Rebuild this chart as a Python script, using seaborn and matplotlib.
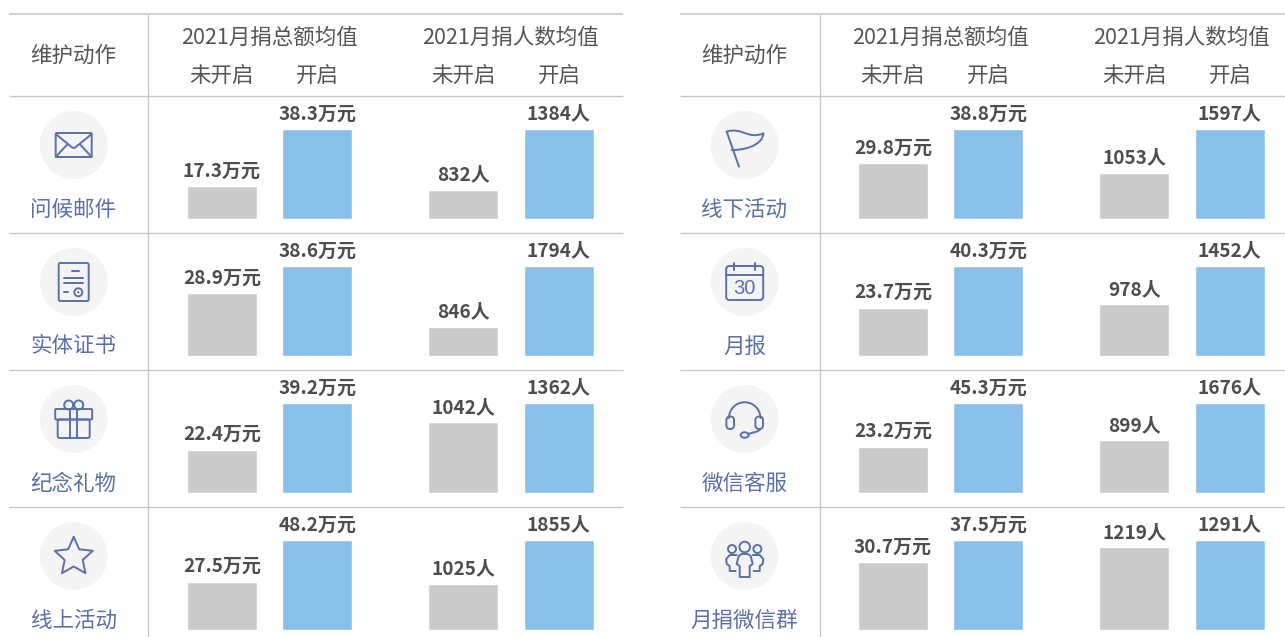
import numpy as np
import pandas as pd
import matplotlib
matplotlib.use("Agg")
import matplotlib.pyplot as plt
import seaborn as sns
from matplotlib.patches import Circle, FancyBboxPatch, PathPatch, Ellipse, Arc
from matplotlib.path import Path

# ---------- data ----------
status = ["未开启", "开启"]
header_action = "维护动作"
header_amount = "2021月捐总额均值"
header_people = "2021月捐人数均值"

left_actions = ["问候邮件", "实体证书", "纪念礼物", "线上活动"]
right_actions = ["线下活动", "月报", "微信客服", "月捐微信群"]

left_amount_off = [17.3, 28.9, 22.4, 27.5]
left_amount_on = [38.3, 38.6, 39.2, 48.2]
left_people_off = [832, 846, 1042, 1025]
left_people_on = [1384, 1794, 1362, 1855]
right_amount_off = [29.8, 23.7, 23.2, 30.7]
right_amount_on = [38.8, 40.3, 45.3, 37.5]
right_people_off = [1053, 978, 899, 1219]
right_people_on = [1597, 1452, 1676, 1291]

# Drawn bar lengths (every cell is scaled on its own,
# the "on" bar always fills the cell)
left_amount_off_len = [33, 62, 43, 48]
left_people_off_len = [29, 29, 70, 46]
right_amount_off_len = [55, 48, 46, 67]
right_people_off_len = [46, 51, 52, 82]
on_len = 89

# ---------- style ----------
W, H = 1285, 637
sns.set_theme(style="white")
plt.rcParams["font.family"] = ["Noto Sans CJK SC", "DejaVu Sans"]
GRAY, BLUE = "#cacaca", "#89c0ea"
TXT, BOLD_TXT, ICON = "#555555", "#4d4d4d", "#5a70aa"
LINE = "#c6c6c6"
CIRCLE = "#f4f4f5"
FS, LABEL_FS = 15.5, 13.7

fig = plt.figure(figsize=(W / 100, H / 100), dpi=100, facecolor="white")
bg = fig.add_axes([0, 0, 1, 1])
bg.set_xlim(0, W)
bg.set_ylim(H, 0)
bg.axis("off")

row_base = [219, 356, 493, 630]
row_lines = [233, 370, 507]


def cell(cx0, base, labels, lengths):
    """one two-bar cell; cx0 is the centre of the first bar in pixels"""
    left, width, height = cx0 - 47.75 - 0.2, 191, 101
    ax = fig.add_axes([left / W, 1 - base / H, width / W, height / H])
    ax.patch.set_alpha(0)
    df = pd.DataFrame({"status": status, "len": lengths})
    sns.barplot(df, x="status", y="len", hue="status", hue_order=status,
                palette=[GRAY, BLUE], width=0.73, dodge=False, legend=False,
                ax=ax, saturation=1)
    ax.set_xlim(-0.5, 1.5)
    ax.set_ylim(0, 100)
    ax.axis("off")
    for cont, lab in zip(ax.containers, labels):
        ax.bar_label(cont, labels=[lab], padding=3.9, fontsize=LABEL_FS,
                     fontweight="bold", color=BOLD_TXT)


def icon_style():
    return dict(fill=False, edgecolor=ICON, lw=1.4, joinstyle="round", capstyle="round", zorder=3)


def stroke(pts, codes=None):
    bg.add_patch(PathPatch(Path(pts, codes), **icon_style()))


def mail(cx, cy):
    bg.add_patch(FancyBboxPatch((cx - 18, cy - 12), 36, 24, boxstyle="round,pad=0,rounding_size=1", **icon_style()))
    stroke([(cx - 18, cy - 11), (cx - 1.5, cy + 2.5), (cx, cy + 3), (cx + 1.5, cy + 2.5), (cx + 18, cy - 11)])
    stroke([(cx - 18, cy + 12), (cx - 6, cy - 1)])
    stroke([(cx + 18, cy + 12), (cx + 6, cy - 1)])


def certificate(cx, cy):
    bg.add_patch(FancyBboxPatch((cx - 15, cy - 19), 30, 38, boxstyle="round,pad=0,rounding_size=1.5", **icon_style()))
    stroke([(cx - 2, cy - 11.3), (cx + 5.5, cy - 11.3)])
    stroke([(cx - 10, cy - 4.3), (cx + 9, cy - 4.3)])
    stroke([(cx - 10, cy + 1.3), (cx + 9, cy + 1.3)])
    stroke([(cx - 10, cy + 10.3), (cx - 5.5, cy + 10.3)])
    bg.add_patch(Circle((cx + 4.6, cy + 10.3), 4, **icon_style()))
    bg.add_patch(Circle((cx + 4.6, cy + 10.3), 1.1, facecolor=ICON, edgecolor="none", zorder=3))


def gift(cx, cy):
    bg.add_patch(FancyBboxPatch((cx - 18.5, cy - 10), 37, 10.5, boxstyle="round,pad=0,rounding_size=1", **icon_style()))
    bg.add_patch(FancyBboxPatch((cx - 16, cy + 0.5), 32, 18.5, boxstyle="round,pad=0,rounding_size=2", **icon_style()))
    stroke([(cx - 3.5, cy - 10), (cx - 3.5, cy + 19)])
    stroke([(cx + 3.5, cy - 10), (cx + 3.5, cy + 19)])
    bg.add_patch(Arc((cx - 5, cy - 14), 9, 9, theta1=0, theta2=360, **icon_style()))
    bg.add_patch(Arc((cx + 5, cy - 14), 9, 9, theta1=0, theta2=360, **icon_style()))


def star(cx, cy):
    ang = np.deg2rad(np.arange(0, 360, 36) - 90)
    rad = np.array([20, 9.5] * 5)
    pts = np.c_[cx + rad * np.cos(ang), cy + rad * np.sin(ang) + 1]
    stroke(np.vstack([pts, pts[0]]))


def flag(cx, cy):
    p = lambda x, y: (680 + x / 3, 100 + y / 3 + (cy - 145))
    stroke([p(140, 95), p(177, 200)])
    stroke([p(140, 95), p(185, 80), p(205, 120), p(250, 100), p(250, 125), p(215, 150), p(155, 150)],
           [Path.MOVETO, Path.CURVE4, Path.CURVE4, Path.CURVE4, Path.CURVE4, Path.CURVE4, Path.CURVE4])


def calendar(cx, cy):
    bg.add_patch(FancyBboxPatch((cx - 18.5, cy - 16), 37, 34, boxstyle="round,pad=0,rounding_size=3", **icon_style()))
    stroke([(cx - 18.5, cy - 7.5), (cx + 18.5, cy - 7.5)])
    stroke([(cx - 10.5, cy - 19), (cx - 10.5, cy - 12)])
    stroke([(cx + 10.5, cy - 19), (cx + 10.5, cy - 12)])
    bg.text(cx, cy + 6, "30", ha="center", va="center", fontsize=14.5, color=ICON,
            family="Liberation Sans", zorder=3)


def headset(cx, cy):
    bg.add_patch(Arc((cx, cy - 1), 31.5, 31.5, theta1=180, theta2=360, **icon_style()))
    for x in (cx - 18.3, cx + 10.7):
        bg.add_patch(FancyBboxPatch((x, cy - 2.5), 7.6, 12.5, boxstyle="round,pad=0,rounding_size=3.8", **icon_style()))
    stroke([(cx + 15.5, cy + 10), (cx + 14, cy + 13), (cx + 8, cy + 13.5), (cx + 3, cy + 15)],
           [Path.MOVETO, Path.CURVE4, Path.CURVE4, Path.CURVE4])
    bg.add_patch(Ellipse((cx, cy + 16), 8, 5.5, **icon_style()))


def group(cx, cy):
    for dx, dy, r in ((-12.7, -7, 4), (0, -9, 5.3), (12.7, -7, 4)):
        bg.add_patch(Circle((cx + dx, cy + dy), r, **icon_style()))
    stroke([(cx - 8, cy + 8), (cx - 6, cy), (cx - 3, cy - 2), (cx + 3, cy - 2), (cx + 6, cy), (cx + 8, cy + 8),
            (cx + 5, cy + 10), (cx + 5, cy + 21), (cx - 5, cy + 21), (cx - 5, cy + 10), (cx - 8, cy + 8)])
    stroke([(cx - 8, cy - 1), (cx - 15, cy - 1), (cx - 18.5, cy + 3), (cx - 18, cy + 8), (cx - 15, cy + 10),
            (cx - 15, cy + 15), (cx - 9, cy + 15)])
    stroke([(cx + 8, cy - 1), (cx + 15, cy - 1), (cx + 18.5, cy + 3), (cx + 18, cy + 8), (cx + 15, cy + 10),
            (cx + 15, cy + 15), (cx + 9, cy + 15)])


def panel(x0, x_end, vline, dx, actions, icons, amount_off, amount_on, people_off, people_on, amount_len, people_len, cxs):
    lw = 0.95
    bg.plot([x0, x_end], [14, 14], color=LINE, lw=lw * 1.2, solid_capstyle="butt")
    bg.plot([x0, x_end], [96, 96], color=LINE, lw=lw, solid_capstyle="butt")
    for y in row_lines:
        bg.plot([x0, x_end], [y, y], color=LINE, lw=lw, solid_capstyle="butt")
    bg.plot([vline, vline], [14, H], color=LINE, lw=lw, solid_capstyle="butt")

    cx = x0 + 64.5
    txt = dict(ha="center", va="center", fontsize=FS, color=TXT)
    bg.text(cx, 56, header_action, **txt)
    bg.text(269.5 + dx, 37.5, header_amount, **txt)
    bg.text(510.5 + dx, 37.5, header_people, **txt)
    for c, s in zip((cxs[0], cxs[1], cxs[2], cxs[3]), status * 2):
        bg.text(c, 75.5, s, **txt)

    for i, base in enumerate(row_base):
        cy = base - 74
        bg.add_patch(Circle((cx + 0.2, cy), 34, facecolor=CIRCLE, edgecolor="none", zorder=2))
        icons[i](cx + 0.2, cy)
        bg.text(cx, base - 9.5, actions[i], ha="center", va="center", fontsize=FS, color=ICON)
        cell(cxs[0], base, [f"{amount_off[i]}万元", f"{amount_on[i]}万元"], [amount_len[i], on_len])
        cell(cxs[2], base, [f"{people_off[i]}人", f"{people_on[i]}人"], [people_len[i], on_len])


panel(9, 623, 148, 0, left_actions, [mail, certificate, gift, star],
      left_amount_off, left_amount_on, left_people_off, left_people_on,
      left_amount_off_len, left_people_off_len, (222, 317.5, 463.5, 559.5))
panel(680, 1285, 819.5, 671, right_actions, [flag, calendar, headset, group],
      right_amount_off, right_amount_on, right_people_off, right_people_on,
      right_amount_off_len, right_people_off_len, (893, 988.5, 1134.5, 1230.5))

fig.savefig("out.png", dpi=100, facecolor="white")
